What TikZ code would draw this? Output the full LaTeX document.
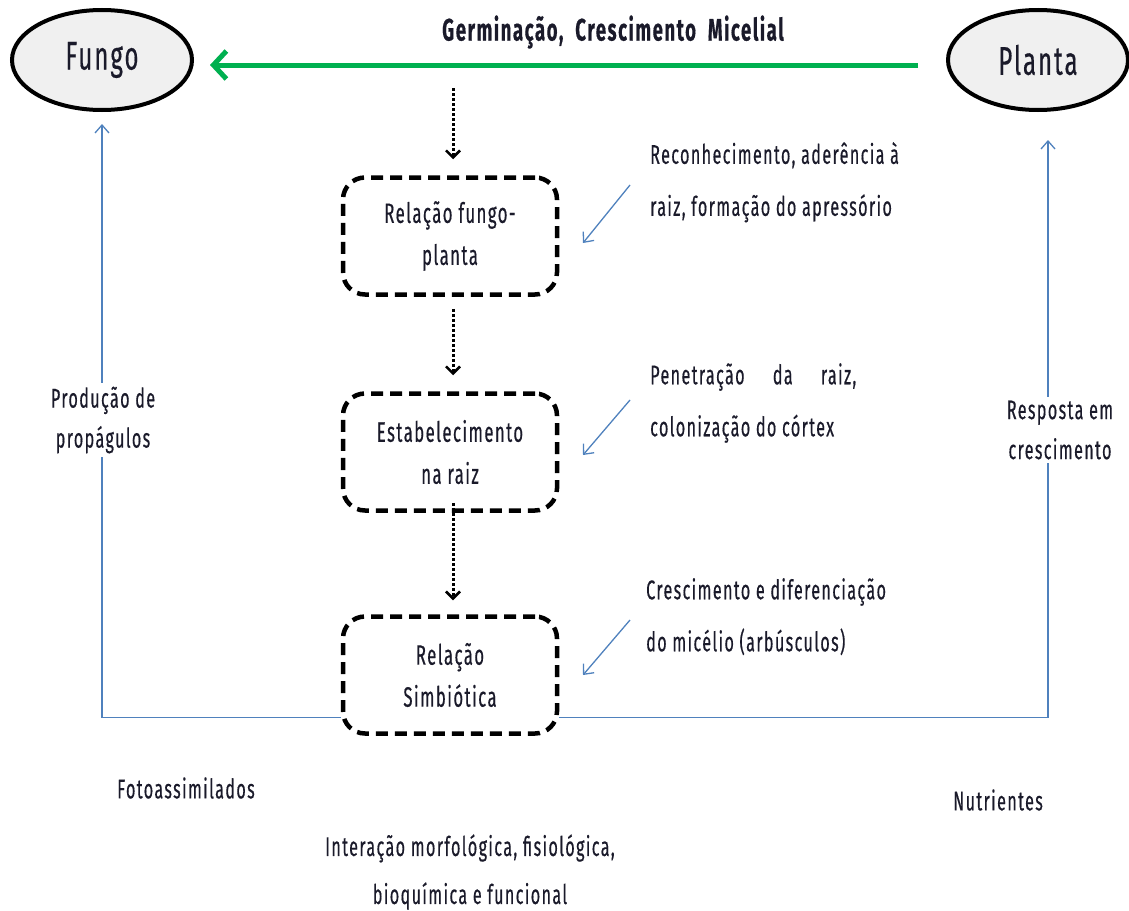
\documentclass[tikz,border=0pt]{standalone}
\usepackage{fontspec}
\setmainfont{Fira Sans}[FakeStretch=0.6,LetterSpace=5,FakeBold=0.4]
\usetikzlibrary{arrows.meta,shapes.geometric,calc}
\definecolor{grn}{HTML}{00B050}
\definecolor{blu}{HTML}{4F81BD}
\definecolor{txt}{HTML}{1A1A2A}
\begin{document}
\begin{tikzpicture}[x=1pt,y=-1pt,
  every node/.style={inner sep=0pt,text=txt},
  oval/.style={ellipse,draw=black,line width=4pt,fill=black!6,minimum width=180pt,minimum height=100pt,font=\fontsize{40}{40}\selectfont},
  dbox/.style={draw=black,line width=4.5pt,dash pattern=on 12pt off 7pt,rounded corners=22pt,minimum width=214pt,minimum height=117pt,align=center,font=\fontsize{28}{42}\selectfont},
  lbl/.style={font=\fontsize{27}{52}\selectfont,align=left},
  clbl/.style={font=\fontsize{27}{40}\selectfont,align=center},
  dotarrow/.style={draw=black,line width=3pt,dotted,-{Straight Barb[length=7pt,width=14pt,line width=2.5pt]}},
  bluarrow/.style={draw=blu,line width=1.3pt,-{Straight Barb[length=8pt,width=14pt,line width=1.3pt]}},
  bluline/.style={draw=blu,line width=1.3pt}
]
\useasboundingbox (0,0) rectangle (1129,910);
% ovals
\node[oval] (fungo) at (102,60) {Fungo};
\node[oval] (planta) at (1038,60) {Planta};
% green arrow
\draw[draw=grn,line width=5pt,-{Straight Barb[length=13pt,width=28pt,line width=5pt]}] (planta.west) ++(-28,5) coordinate (gs) -- (gs -| 210,0) coordinate (ge);
\node[font=\bfseries\fontsize{31}{32}\selectfont] (germ) at (613,32) {Germinação,\ \ Crescimento\ \ Micelial};
% boxes
\node[dbox] (b1) at (450,236) {Relação fungo-\\planta};
\node[dbox] (b2) at (450,452) {Estabelecimento\\na raiz};
\node[dbox] (b3) at (450,675) {Relação\\Simbiótica};
% dotted arrows
\coordinate (d0) at (453,88);
\draw[dotarrow] (d0) -- ($(b1.north -| d0)+(0,-16)$);
\draw[dotarrow] (b1.south -| d0) ++(0,12) coordinate (d1) -- ($(b2.north -| d0)+(0,-16)$);
\draw[dotarrow] (b2.south -| d0) ++(0,-10) coordinate (d2) -- ($(b3.north -| d0)+(0,-14)$);
% callouts
\node[lbl,anchor=north west] (c1) at (650,142) {Reconhecimento, aderência à\\raiz, formação do apressório};
\node[lbl,anchor=north west] (c2) at (650,363) {Penetração\ \ \ \ \ da\ \ \ \ \ raiz,\\colonização do córtex};
\node[lbl,anchor=north west] (c3) at (646,578) {Crescimento e diferenciação\\do micélio (arbúsculos)};
\coordinate (a1s) at (630,185); \coordinate (a1e) at (583,243);
\coordinate (a2s) at (630,400); \coordinate (a2e) at (583,455);
\coordinate (a3s) at (630,620); \coordinate (a3e) at (583,675);
\draw[bluarrow] (a1s) -- (a1e);
\draw[bluarrow] (a2s) -- (a2e);
\draw[bluarrow] (a3s) -- (a3e);
% blue loops
\draw[bluline,-{Straight Barb[length=8pt,width=14pt,line width=1.3pt]}] ($(b3.south west)+(0,-18)$) -| ($(fungo.south)+(0,12)$);
\draw[bluline,-{Straight Barb[length=8pt,width=14pt,line width=1.3pt]}] ($(b3.south east)+(0,-18)$) -| ($(planta.south)+(10,28)$);
\node[clbl,fill=white,inner ysep=4pt] (prop) at (103,420) {Produção de\\propágulos};
\node[clbl,fill=white,inner ysep=4pt] (resp) at (1060,430) {Resposta em\\crescimento};
% bottom labels
\node[clbl] (foto) at (186,788) {Fotoassimilados};
\node[clbl] (nutr) at (998,800) {Nutrientes};
\node[clbl,font=\fontsize{27}{48}\selectfont] (inter) at (470,872) {Interação morfológica, fisiológica,\\bioquímica e funcional};
\end{tikzpicture}
\end{document}
